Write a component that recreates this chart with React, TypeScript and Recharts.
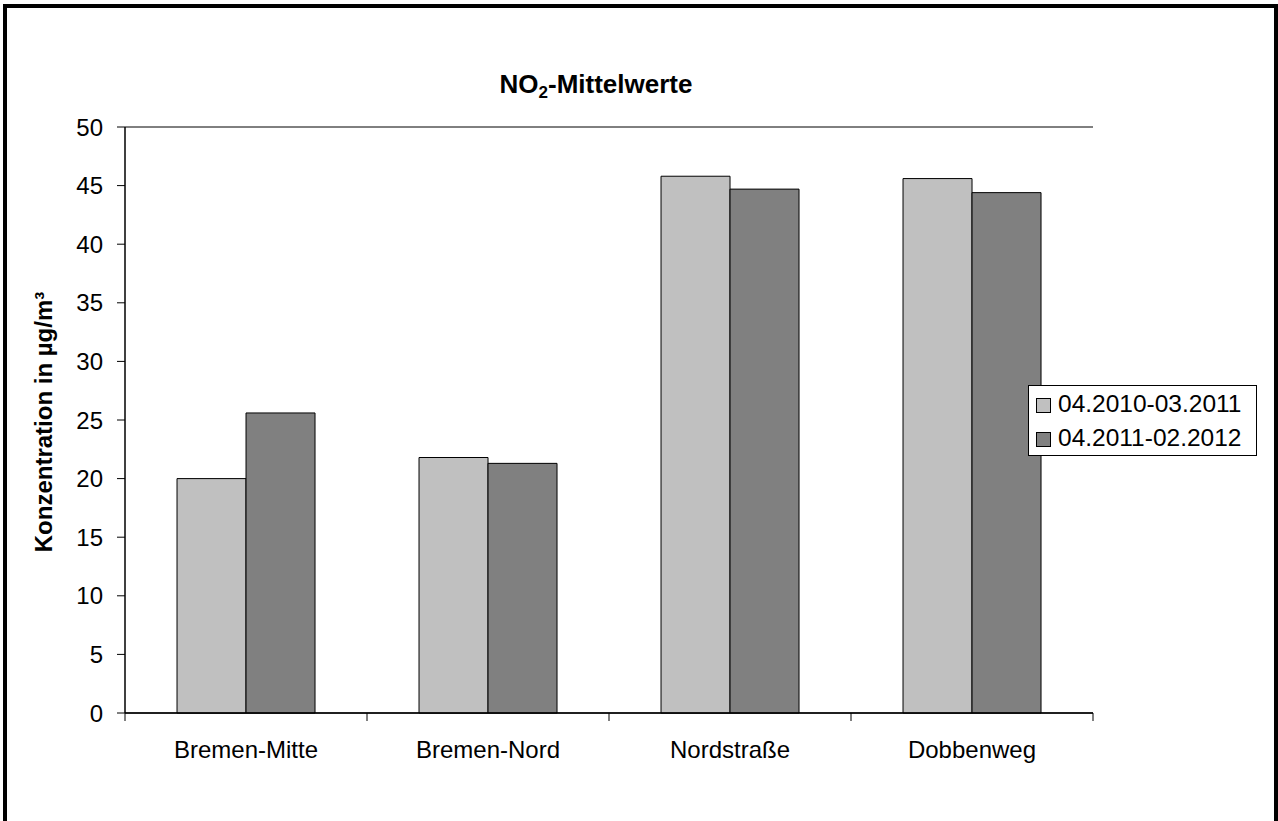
import React from 'react';
import { BarChart, Bar, XAxis, YAxis, CartesianGrid, Legend } from 'recharts';

// NO2 annual means per monitoring site, two measurement periods
const sites = ['Bremen-Mitte', 'Bremen-Nord', 'Nordstraße', 'Dobbenweg'];
const period1 = [20.0, 21.8, 45.8, 45.6];
const period2 = [25.6, 21.3, 44.7, 44.4];
const seriesNames = ['04.2010-03.2011', '04.2011-02.2012'];
const yTicks = [0, 5, 10, 15, 20, 25, 30, 35, 40, 45, 50];

const data = sites.map((site, i) => ({ site, p1: period1[i], p2: period2[i] }));

const FONT = '"Liberation Sans", Arial, Helvetica, sans-serif';
const W = 1278;
const H = 821;
const Y_AXIS_W = 80;
const X_AXIS_H = 60;
const MARGIN = { top: 127, right: 185, bottom: 48, left: 45 };
const PLOT_LEFT = MARGIN.left + Y_AXIS_W;
const PLOT_W = W - PLOT_LEFT - MARGIN.right;
const PLOT_BOTTOM = H - MARGIN.bottom - X_AXIS_H;
const LIGHT = '#C0C0C0';
const DARK = '#808080';

// Category label centred in its band, tick marks on the band boundaries
function SiteTick(props: any) {
  const { x, payload, index } = props;
  const band = PLOT_W / sites.length;
  const left = x - band / 2;
  const right = x + band / 2;
  return (
    <g>
      <line x1={left} x2={left} y1={PLOT_BOTTOM} y2={PLOT_BOTTOM + 8} stroke="#000" strokeWidth={1} />
      {index === sites.length - 1 && (
        <line x1={right} x2={right} y1={PLOT_BOTTOM} y2={PLOT_BOTTOM + 8} stroke="#000" strokeWidth={1} />
      )}
      <text x={x} y={PLOT_BOTTOM + 45} textAnchor="middle" fontFamily={FONT} fontSize={24} fill="#000">
        {payload.value}
      </text>
    </g>
  );
}

function LegendBox() {
  const colors = [LIGHT, DARK];
  return (
    <svg width={229} height={71} style={{ display: 'block' }}>
      <rect x={0.5} y={0.5} width={228} height={70} fill="#fff" stroke="#000" strokeWidth={1} />
      {seriesNames.map((name, i) => (
        <g key={name}>
          <rect x={8.5} y={13.5 + i * 34} width={14} height={14} fill={colors[i]} stroke="#000" strokeWidth={1} />
          <text x={30} y={27 + i * 34} fontFamily={FONT} fontSize={24.5} fill="#000">
            {name}
          </text>
        </g>
      ))}
    </svg>
  );
}

function AxisTitle() {
  const cx = 43;
  const cy = 422;
  return (
    <text
      x={cx}
      y={cy}
      transform={`rotate(-90, ${cx}, ${cy})`}
      textAnchor="middle"
      dominantBaseline="central"
      fontFamily={FONT}
      fontSize={24}
      fontWeight="bold"
      fill="#000"
    >
      Konzentration in µg/m³
    </text>
  );
}

export default function App() {
  return (
    <div style={{ position: 'relative', margin: -8, width: W, height: H, background: '#fff', overflow: 'hidden' }}>
      <BarChart
        width={W}
        height={H}
        data={data}
        margin={MARGIN}
        barCategoryGap="21.5%"
        barGap={0}
      >
        <CartesianGrid vertical={false} stroke="#000" strokeWidth={1} />
        <XAxis
          dataKey="site"
          height={X_AXIS_H}
          interval={0}
          tickLine={false}
          tickSize={8}
          tickMargin={0}
          axisLine={{ stroke: '#000', strokeWidth: 1.5 }}
          tick={<SiteTick />}
        />
        <YAxis
          yAxisId="left"
          width={Y_AXIS_W}
          domain={[0, 50]}
          ticks={yTicks}
          interval={0}
          tickSize={8}
          tickMargin={14}
          axisLine={{ stroke: '#000', strokeWidth: 1.5 }}
          tickLine={{ stroke: '#000' }}
          tick={{ fill: '#000', fontSize: 24, fontFamily: FONT }}
        />
        <YAxis
          yAxisId="right"
          orientation="right"
          width={0}
          domain={[0, 50]}
          ticks={yTicks}
          tick={false}
          tickLine={false}
          axisLine={{ stroke: '#404040', strokeWidth: 2 }}
        />
        <Bar yAxisId="left" dataKey="p1" name={seriesNames[0]} fill={LIGHT} stroke="#000" strokeWidth={1} isAnimationActive={false} />
        <Bar yAxisId="left" dataKey="p2" name={seriesNames[1]} fill={DARK} stroke="#000" strokeWidth={1} isAnimationActive={false} />
        <Legend
          layout="horizontal"
          verticalAlign="middle"
          align="center"
          wrapperStyle={{ position: 'absolute', left: 1028, top: 385, width: 229, height: 71 }}
          content={() => <LegendBox />}
        />
        <text x={596} y={93} textAnchor="middle" fontFamily={FONT} fontSize={26} fontWeight="bold" fill="#000">
          NO
          <tspan dy={5} fontSize={17}>2</tspan>
          <tspan dy={-5}>-Mittelwerte</tspan>
        </text>
        <AxisTitle />
      </BarChart>
      {/* frame around the whole chart, open at the bottom edge */}
      <div
        style={{
          position: 'fixed',
          left: 3,
          top: 4,
          width: W - 3,
          height: H + 20,
          borderStyle: 'solid',
          borderColor: '#000',
          borderWidth: '4px 4px 0 4px',
          boxSizing: 'border-box',
          pointerEvents: 'none',
          zIndex: 1000,
        }}
      />
    </div>
  );
}
